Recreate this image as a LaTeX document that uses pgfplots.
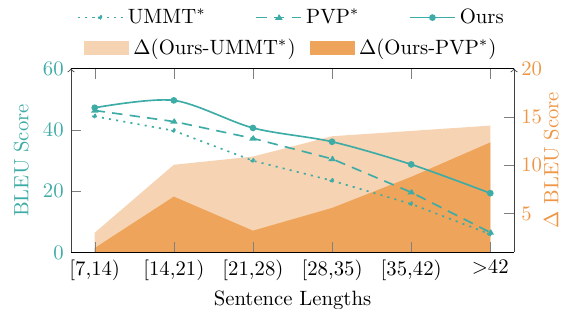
\documentclass[border=0pt]{standalone}
\usepackage{pgfplots}
\pgfplotsset{compat=1.18}
\definecolor{tealc}{RGB}{62,172,166}
\definecolor{lightor}{RGB}{246,211,178}
\definecolor{darkor}{RGB}{238,164,90}
\definecolor{ortext}{RGB}{238,150,70}
\begin{document}
\begin{tikzpicture}
\begin{axis}[
  name=axr,
  scale only axis, width=214pt, height=88.8pt,
  xmin=-0.3, xmax=5.3, ymin=1, ymax=20,
  axis x line=none, axis y line*=right,
  ytick={5,10,15,20},
  tick align=inside,
  major tick length=5pt,
  tick style={gray},
  yticklabel style={text=ortext},
  ylabel={$\Delta$ BLEU Score}, ylabel style={text=ortext},
  ylabel shift=-6pt,
  y axis line style={black!75,->},
  legend columns=2,
  legend style={at={(0.5,1)}, anchor=center, yshift=10pt, draw=none, fill=none,
    /tikz/every even column/.append style={column sep=5pt}},
  legend image code/.code={\fill[#1] (0pt,-3.4pt) rectangle (21.7pt,3.4pt);},
]
\addplot[fill=lightor, draw=none] coordinates {(0,3.03) (1,10.05) (2,10.9) (3,13.0) (4,13.55) (5,14.1)} \closedcycle;
\addplot[fill=darkor, draw=none] coordinates {(0,1.45) (1,6.76) (2,3.24) (3,5.59) (4,8.8) (5,12.36)} \closedcycle;
\legend{$\Delta$(Ours-UMMT$^*$), $\Delta$(Ours-PVP$^*$)}
\end{axis}
\begin{axis}[
  name=axl,
  scale only axis, width=214pt, height=88.8pt,
  xmin=-0.3, xmax=5.3, ymin=0, ymax=60,
  axis x line*=box, axis y line*=left,
  xtick={0,1,2,3,4,5},
  xticklabels={{[7,14)},{[14,21)},{[21,28)},{[28,35)},{[35,42)},{$>$42}},
  ytick={0,20,40,60},
  tick align=inside,
  major tick length=5pt,
  tick style={gray},
  y axis line style={black!75,->},
  yticklabel style={text=tealc},
  ylabel={BLEU Score}, ylabel style={text=tealc},
  xlabel={Sentence Lengths},
  xlabel shift=-2pt,
  legend columns=3,
  legend style={at={(0.5,1)}, anchor=center, yshift=24.6pt, draw=none, fill=none,
    /tikz/every even column/.append style={column sep=22pt}},
  legend image code/.code={\draw[mark repeat=2,mark phase=2,#1] plot coordinates {(0pt,0pt) (10.85pt,0pt) (21.7pt,0pt)};},
]
\addplot[tealc, thick, dash pattern=on 1pt off 2.5pt, mark=diamond*, mark size=1.1pt] coordinates {(0,44.4) (1,39.7) (2,29.9) (3,23.4) (4,15.8) (5,5.9)};
\addplot[tealc, thick, dash pattern=on 5pt off 3.5pt, mark=triangle*, mark size=1.3pt] coordinates {(0,46.3) (1,42.7) (2,37.2) (3,30.5) (4,19.6) (5,6.5)};
\addplot[tealc, thick, smooth, mark=*, mark size=1.2pt] coordinates {(0,47.2) (1,49.6) (2,40.6) (3,36.1) (4,28.7) (5,19.3)};
\legend{UMMT$^*$, PVP$^*$, Ours}
\end{axis}
\pgfresetboundingbox
\path[use as bounding box] ([shift={(-34.3pt,-26.9pt)}]axl.south west) rectangle ([shift={(30.9pt,33.1pt)}]axl.north east);
\end{tikzpicture}
\end{document}
